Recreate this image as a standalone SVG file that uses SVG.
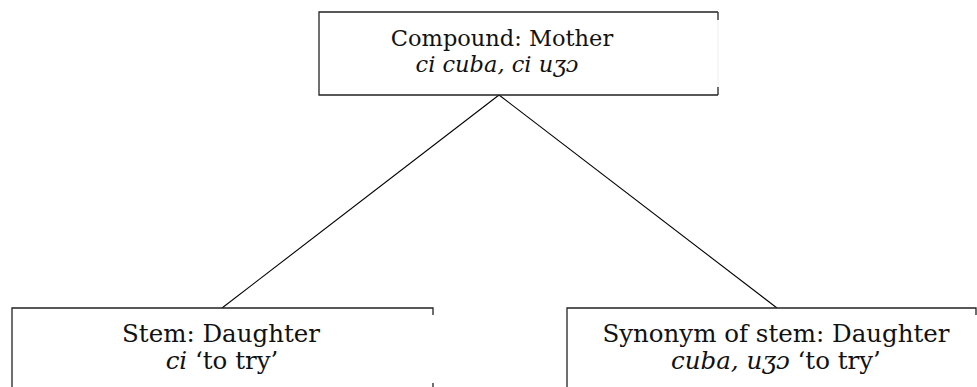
<svg xmlns="http://www.w3.org/2000/svg" width="977" height="387" viewBox="0 0 977 387">
<style>
.box{fill:#fff;stroke:none}
.edge{stroke:#222;stroke-width:1.3;fill:none}
.faint{stroke:#eee;stroke-width:1;fill:none}
.conn{stroke:#000;stroke-width:1.1;fill:none}
text{font-family:"DejaVu Serif","Liberation Serif",serif;fill:#111;text-anchor:middle}
.t{font-size:22.5px}
.b{font-size:24.5px}
.i{font-style:italic}
</style>
<g id="connectors">
<line class="conn" x1="499" y1="95" x2="222" y2="308"/>
<line class="conn" x1="499" y1="95" x2="777" y2="308"/>
</g>
<g id="mother">
<rect class="box" x="319" y="12" width="399" height="83"/>
<path class="edge" d="M718 12H319V95H718"/>
<path class="faint" d="M718 20V87"/>
<path class="edge" d="M718 12V20M718 87V95"/>
<text x="502" y="46" class="t">Compound: Mother</text>
<text x="497" y="72" class="t i">ci cuba, ci uʒɔ</text>
</g>
<g id="stem">
<rect class="box" x="12" y="308" width="421" height="85"/>
<path class="edge" d="M12 392V308H433V315M433 383V392"/>
<text x="221" y="342" class="b">Stem: Daughter</text>
<text x="222" y="369" class="b"><tspan class="i">ci</tspan> ‘to try’</text>
</g>
<g id="synonym">
<rect class="box" x="567" y="308" width="409" height="85"/>
<path class="edge" d="M567 392V308H976V315"/>
<text x="776" y="342" class="b">Synonym of stem: Daughter</text>
<text x="776" y="369" class="b"><tspan class="i">cuba, uʒɔ</tspan> ‘to try’</text>
</g>
</svg>
